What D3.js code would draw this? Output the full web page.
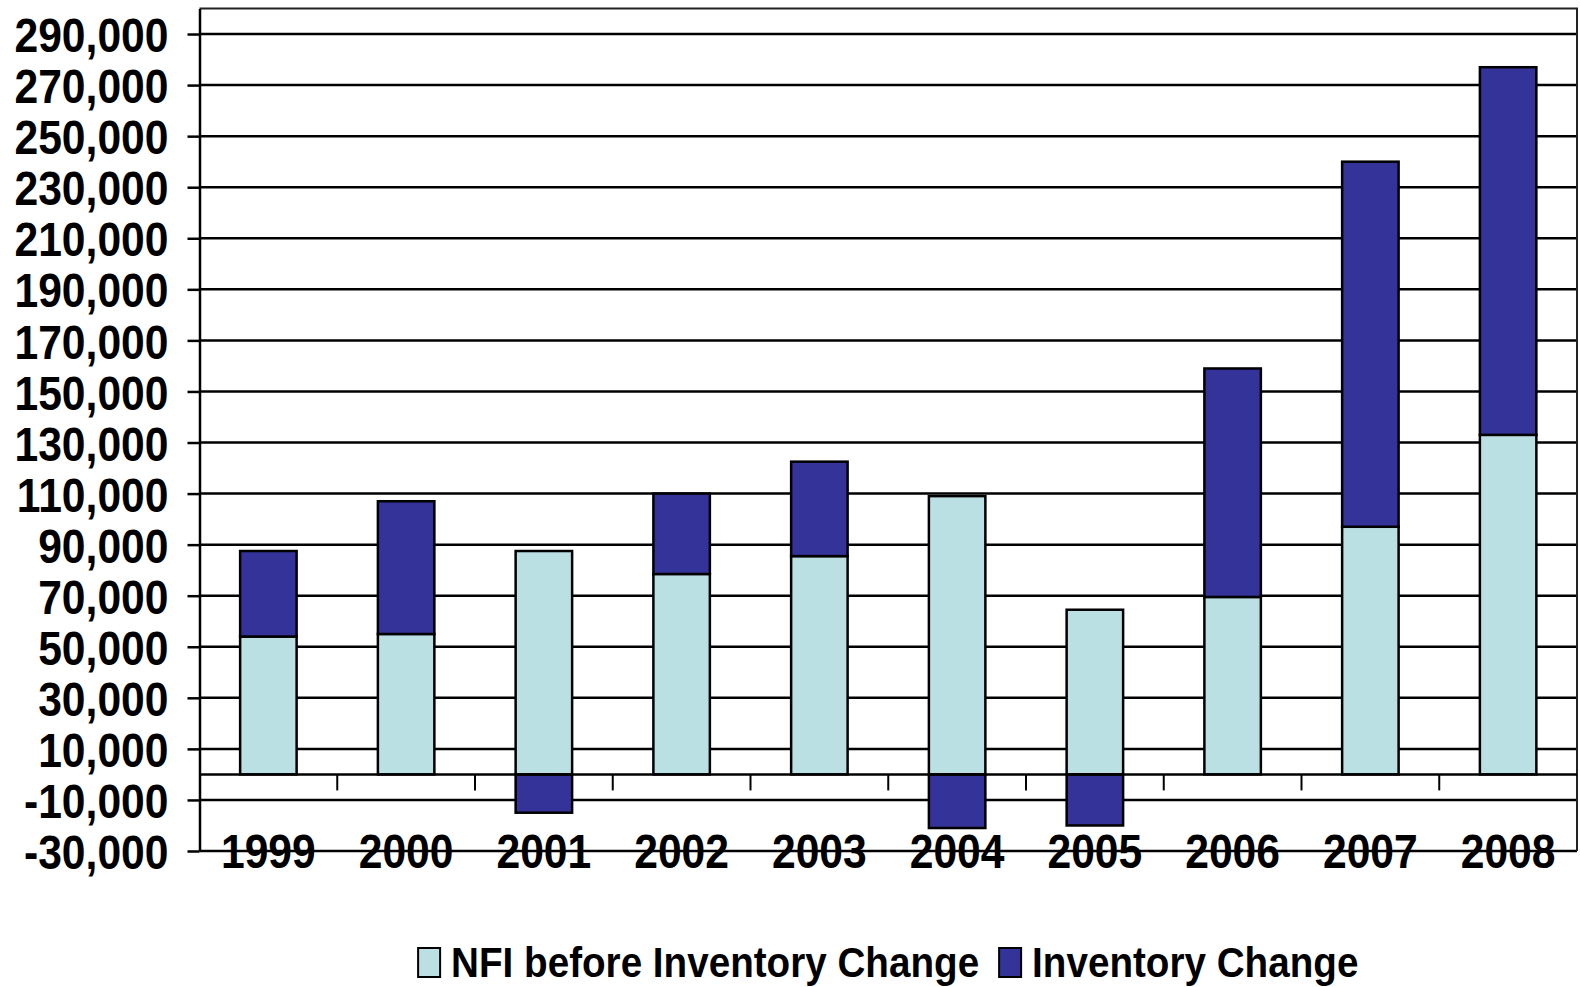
<!DOCTYPE html>
<html lang="en">
<head>
<meta charset="UTF-8">
<title>NFI before Inventory Change</title>
<style>
  body { margin: 0; background: #fff; }
  svg text { font-family: "Liberation Sans", Arial, sans-serif; font-weight: bold; fill: #000; }
</style>
<script src="https://cdn.jsdelivr.net/npm/d3@7"></script>
</head>
<body>
<script>
// data
var years = ["1999", "2000", "2001", "2002", "2003", "2004", "2005", "2006", "2007", "2008"];
var nfiBefore = [54000, 55000, 87500, 78500, 85500, 109000, 64500, 69500, 97000, 133000];
var inventoryChange = [33500, 52000, -15000, 31500, 37000, -21000, -20000, 89500, 143000, 144000];
var seriesNames = ["NFI before Inventory Change", "Inventory Change"];
var yTickValues = d3.range(-30000, 290001, 20000);

var W = 1580, H = 987;
var m = { left: 199.5, right: 1577, top: 8.5, bottom: 851 };
var colors = ["#BBE0E3", "#333399"];

// narrow bold look: squeeze text horizontally round its anchor
function narrow(sel, s) {
  sel.each(function() {
    var t = d3.select(this);
    var tx = +t.attr("x") || 0;
    t.attr("transform", "translate(" + tx + ",0) scale(" + s + ",1) translate(" + (-tx) + ",0)");
  });
}

var comma = d3.format(",");
function fmt(d) { return comma(d).replace("\u2212", "-"); }

var svg = d3.select("body").append("svg")
    .attr("width", W)
    .attr("height", H);

var x = d3.scaleBand()
    .domain(years)
    .range([m.left, m.right])
    .paddingInner(0.59)
    .paddingOuter(0.295);

var y = d3.scaleLinear()
    .domain([-30000, 300000])
    .range([m.bottom, m.top]);

// rows for the stack
var rows = years.map(function(yr, i) {
  return { year: yr, nfi: nfiBefore[i], inv: inventoryChange[i] };
});
var stacked = d3.stack()
    .keys(["nfi", "inv"])
    .offset(d3.stackOffsetDiverging)(rows);

// gridlines
svg.append("g").selectAll("line")
  .data(yTickValues)
  .enter().append("line")
    .attr("x1", m.left).attr("x2", m.right)
    .attr("y1", function(d) { return y(d); })
    .attr("y2", function(d) { return y(d); })
    .attr("stroke", "#000")
    .attr("stroke-width", 2.5);

// plot border (top / right)
svg.append("path")
    .attr("d", "M" + m.left + "," + m.top + "H" + m.right + "V" + m.bottom)
    .attr("fill", "none")
    .attr("stroke", "#222")
    .attr("stroke-width", 2);

// bars
svg.append("g").selectAll("g")
  .data(stacked)
  .enter().append("g")
    .attr("fill", function(d, i) { return colors[i]; })
  .selectAll("rect")
  .data(function(d) { return d; })
  .enter().append("rect")
    .attr("x", function(d) { return x(d.data.year); })
    .attr("width", x.bandwidth())
    .attr("y", function(d) { return y(Math.max(d[0], d[1])); })
    .attr("height", function(d) { return Math.abs(y(d[0]) - y(d[1])); })
    .attr("stroke", "#000")
    .attr("stroke-width", 2.5);

// y axis
var yAxis = svg.append("g")
    .attr("transform", "translate(" + m.left + ",0)")
    .call(d3.axisLeft(y)
      .tickValues(yTickValues)
      .tickFormat(fmt)
      .tickSize(12)
      .tickSizeOuter(0)
      .tickPadding(19));
yAxis.select(".domain").attr("stroke", "#000").attr("stroke-width", 2.5);
yAxis.selectAll(".tick line").attr("stroke", "#000").attr("stroke-width", 2.5);
yAxis.selectAll("text")
    .attr("font-size", 49)
    .attr("font-family", null)
    .attr("dy", "0.36em")
    .call(narrow, 0.87);

// category axis on the zero line, ticks between categories
var zeroY = y(0);
var step = x.step();
svg.append("line")
    .attr("x1", m.left).attr("x2", m.right)
    .attr("y1", zeroY).attr("y2", zeroY)
    .attr("stroke", "#000")
    .attr("stroke-width", 2.5);
svg.append("g").selectAll("line")
  .data(years.slice(1))
  .enter().append("line")
    .attr("x1", function(d) { return x(d) - step * x.paddingInner() / 2; })
    .attr("x2", function(d) { return x(d) - step * x.paddingInner() / 2; })
    .attr("y1", zeroY)
    .attr("y2", zeroY + 16)
    .attr("stroke", "#000")
    .attr("stroke-width", 2);

// year labels along the bottom
var xAxis = svg.append("g")
    .attr("transform", "translate(0," + m.bottom + ")")
    .call(d3.axisBottom(x).tickSize(0).tickPadding(0));
xAxis.select(".domain").remove();
xAxis.selectAll("text")
    .attr("font-size", 49)
    .attr("font-family", null)
    .attr("y", -1)
    .attr("dy", "0.36em")
    .call(narrow, 0.87);

// legend
var legendScale = 0.92;
var legend = svg.append("g");
var items = legend.selectAll("g")
  .data(seriesNames)
  .enter().append("g");
items.append("rect")
    .attr("width", 22)
    .attr("height", 29)
    .attr("y", 948)
    .attr("fill", function(d, i) { return colors[i]; })
    .attr("stroke", "#000")
    .attr("stroke-width", 2);
items.append("text")
    .attr("x", 33)
    .attr("y", 977)
    .attr("font-size", 42)
    .text(function(d) { return d; })
    .call(narrow, legendScale);

var pos = 0;
items.each(function() {
  var txt = d3.select(this).select("text").node();
  var w = 33 + txt.getComputedTextLength() * legendScale;
  d3.select(this).attr("transform", "translate(" + pos + ",0)");
  pos += w + 20;
});
var total = pos - 20;
legend.attr("transform", "translate(" + ((m.left + m.right) / 2 - total / 2) + ",0)");
</script>
</body>
</html>
